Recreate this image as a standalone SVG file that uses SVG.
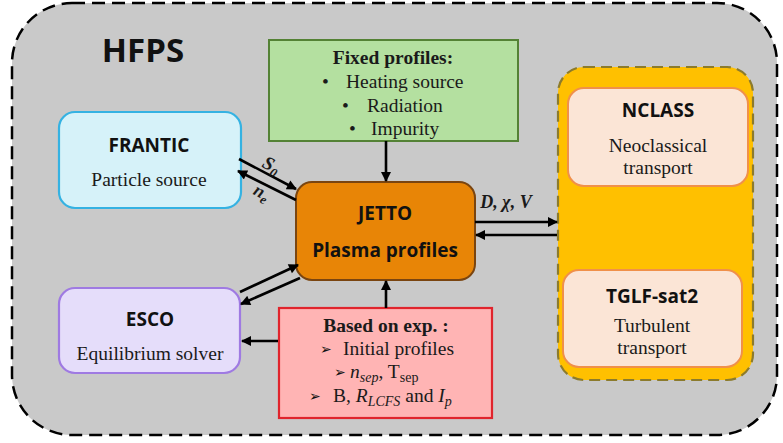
<svg xmlns="http://www.w3.org/2000/svg" width="783" height="443" viewBox="0 0 783 443">
<defs>
<marker id="ah" viewBox="0 0 10 10" refX="9" refY="5" markerWidth="11" markerHeight="10" markerUnits="userSpaceOnUse" orient="auto">
<path d="M0,0 L10,5 L0,10 z" fill="#000"/>
</marker>
<style>
.sans{font-family:"Open Sans","Noto Sans",sans-serif;font-weight:bold;font-size:19px;fill:#111;text-anchor:middle}
.serif{font-family:"Liberation Serif","Times New Roman",serif;font-size:19.5px;fill:#1a1a1a;text-anchor:middle}
.st{text-anchor:start}
.b{font-weight:bold}
.it{font-style:italic}
.dg{font-family:"DejaVu Sans",sans-serif;font-size:14px;fill:#111}
.conn line{stroke:#000;stroke-width:2.6;marker-end:url(#ah)}
</style>
</defs>
<rect width="783" height="443" fill="#ffffff"/>
<g id="hfps">
<rect x="12" y="3" width="765" height="432" rx="60" fill="#c9c9c9" stroke="#000" stroke-width="2.5" stroke-dasharray="13 7"/>
<text x="143" y="62" class="sans" style="font-size:33px">HFPS</text>
</g>
<g id="transport-group">
<rect x="558" y="67" width="195" height="313" rx="26" fill="#ffc000" stroke="#8c7b2c" stroke-width="2.2" stroke-dasharray="11 6"/>
</g>
<g id="nclass">
<rect x="568" y="88" width="180" height="98" rx="16" fill="#fbe5d6" stroke="#f0904a" stroke-width="2"/>
<text x="658" y="117" class="sans">NCLASS</text>
<text x="658" y="152" class="serif">Neoclassical</text>
<text x="658" y="174" class="serif">transport</text>
</g>
<g id="tglf">
<rect x="563" y="270" width="179" height="97" rx="16" fill="#fbe5d6" stroke="#f0904a" stroke-width="2"/>
<text x="652" y="303" class="sans">TGLF-sat2</text>
<text x="652" y="332" class="serif">Turbulent</text>
<text x="652" y="354" class="serif">transport</text>
</g>
<g id="frantic">
<rect x="59" y="112" width="182" height="96" rx="16" fill="#d6f2f9" stroke="#35b2e2" stroke-width="2.2"/>
<text x="149" y="152" class="sans">FRANTIC</text>
<text x="149" y="186" class="serif">Particle source</text>
</g>
<g id="esco">
<rect x="59" y="288" width="181" height="85" rx="16" fill="#e5ddfa" stroke="#9f7ae2" stroke-width="2.2"/>
<text x="150" y="326" class="sans">ESCO</text>
<text x="150" y="360" class="serif">Equilibrium solver</text>
</g>
<g id="fixed">
<rect x="269" y="40" width="249" height="101" fill="#b4e0a0" stroke="#548235" stroke-width="2"/>
<text x="393" y="64" class="serif b">Fixed profiles:</text>
<text x="322" y="88" class="serif st">•</text>
<text x="346" y="88" class="serif st">Heating source</text>
<text x="342" y="112" class="serif st">•</text>
<text x="367" y="112" class="serif st">Radiation</text>
<text x="349" y="135" class="serif st">•</text>
<text x="371" y="135" class="serif st">Impurity</text>
</g>
<g id="jetto">
<rect x="296" y="182" width="179" height="98" rx="16" fill="#e88506" stroke="#7a4510" stroke-width="2"/>
<text x="385" y="220" class="sans">JETTO</text>
<text x="385" y="257" class="sans">Plasma profiles</text>
</g>
<g id="exp">
<rect x="279" y="308" width="213" height="110" fill="#ffb4b4" stroke="#e0242c" stroke-width="2.2"/>
<text x="386" y="332" class="serif b">Based on exp. :</text>
<text x="320" y="354" class="dg">➢</text>
<text x="343" y="355" class="serif st">Initial profiles</text>
<text x="334" y="377" class="dg">➢</text>
<text x="350" y="378" class="serif st"><tspan class="it">n</tspan><tspan class="it" font-size="14" dy="4">sep</tspan><tspan dy="-4">, T</tspan><tspan font-size="14" dy="4">sep</tspan></text>
<text x="309" y="401" class="dg">➢</text>
<text x="333" y="402" class="serif st">B, <tspan class="it">R</tspan><tspan class="it" font-size="14" dy="4">LCFS</tspan><tspan dy="-4"> and </tspan><tspan class="it">I</tspan><tspan class="it" font-size="14" dy="4">p</tspan></text>
</g>
<g id="connectors" class="conn">
<line x1="239" y1="159" x2="296" y2="189"/>
<line x1="296" y1="200" x2="238" y2="171"/>
<line x1="240" y1="292" x2="298" y2="265"/>
<line x1="300" y1="278" x2="241" y2="304"/>
<line x1="278" y1="341" x2="242" y2="341"/>
<line x1="386" y1="308" x2="386" y2="281"/>
<line x1="386" y1="141" x2="386" y2="181"/>
<line x1="475" y1="222" x2="557" y2="222"/>
<line x1="557" y1="235" x2="476" y2="235"/>
</g>
<g id="labels">
<text x="271" y="171" class="serif b it" style="font-size:19px" transform="rotate(28 271 166)">S<tspan font-size="13" dy="4">0</tspan></text>
<text x="261" y="198" class="serif b it" style="font-size:18px" transform="rotate(28 261 194)">n<tspan font-size="13" dy="4">e</tspan></text>
<text x="506" y="208" class="serif b it" style="font-size:18px">D, χ, V</text>
</g>
</svg>
